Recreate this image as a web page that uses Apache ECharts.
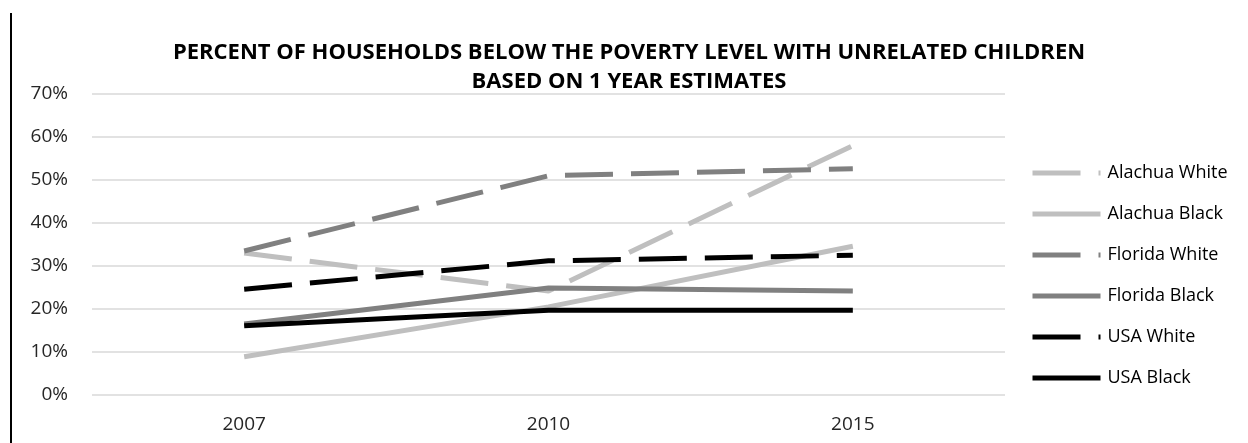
<!DOCTYPE html>
<html><head><meta charset="utf-8">
<script src="https://cdn.jsdelivr.net/npm/echarts@6/dist/echarts.min.js"></script>
<style>html,body{margin:0;padding:0;background:#fff}#c{width:1248px;height:443px}</style>
</head><body><div id="c"></div>
<script>
const categories = ['2007', '2010', '2015'];
const alachuaWhite = [33.0, 24.2, 58.0];
const alachuaBlack = [8.9, 20.5, 34.6];
const floridaWhite = [33.5, 51.0, 52.6];
const floridaBlack = [16.5, 24.9, 24.2];
const usaWhite = [24.6, 31.2, 32.5];
const usaBlack = [16.1, 19.7, 19.7];
const yTicks = [0, 10, 20, 30, 40, 50, 60, 70];

const FONT = 'Open Sans';
const DASH = [48, 18];
function s(name, data, color, dashed) {
  return {
    name, type: 'line', data, symbol: 'none', smooth: false,
    lineStyle: { color, width: 5, type: dashed ? DASH : 'solid', cap: 'butt' },
    itemStyle: { color },
    emphasis: { disabled: true }
  };
}
const chart = echarts.init(document.getElementById('c'), null, { renderer: 'canvas' });
chart.setOption({
  animation: false,
  backgroundColor: '#fff',
  title: {
    text: 'PERCENT OF HOUSEHOLDS BELOW THE POVERTY LEVEL WITH UNRELATED CHILDREN\nBASED ON 1 YEAR ESTIMATES',
    left: 629, top: 38, textAlign: 'center', padding: 0,
    textStyle: { fontFamily: FONT, fontWeight: 'bold', fontSize: 22, color: '#000', lineHeight: 29 }
  },
  legend: {
    orient: 'vertical', left: 1030, top: 163, itemGap: 21,
    itemWidth: 68, itemHeight: 20, padding: 0,
    itemStyle: { opacity: 0 },
    lineStyle: { width: 5 },
    textStyle: { fontFamily: FONT, fontSize: 18, color: '#000', lineHeight: 20, padding: [0, 0, 0, 2] },
    data: ['Alachua White', 'Alachua Black', 'Florida White', 'Florida Black', 'USA White', 'USA Black']
  },
  grid: { left: 92, right: 243, top: 94, bottom: 48, containLabel: false },
  xAxis: {
    type: 'category', data: categories, boundaryGap: true,
    axisLine: { show: false }, axisTick: { show: false },
    axisLabel: { fontFamily: FONT, fontSize: 19, color: '#262626', margin: 20 }
  },
  yAxis: {
    type: 'value', min: yTicks[0], max: yTicks[yTicks.length - 1], interval: 10,
    axisLine: { show: false }, axisTick: { show: false },
    axisLabel: { fontFamily: FONT, fontSize: 19, color: '#262626', margin: 24, formatter: v => v + '%' },
    splitLine: { lineStyle: { color: '#d9d9d9', width: 1.5 } }
  },
  graphic: [{ type: 'line', shape: { x1: 11, y1: 13, x2: 11, y2: 443 }, style: { stroke: '#000', lineWidth: 2 } }],
  series: [
    s('Alachua White', alachuaWhite, '#bfbfbf', true),
    s('Alachua Black', alachuaBlack, '#bfbfbf', false),
    s('Florida White', floridaWhite, '#808080', true),
    s('Florida Black', floridaBlack, '#808080', false),
    s('USA White', usaWhite, '#000000', true),
    s('USA Black', usaBlack, '#000000', false)
  ]
});
</script></body></html>
